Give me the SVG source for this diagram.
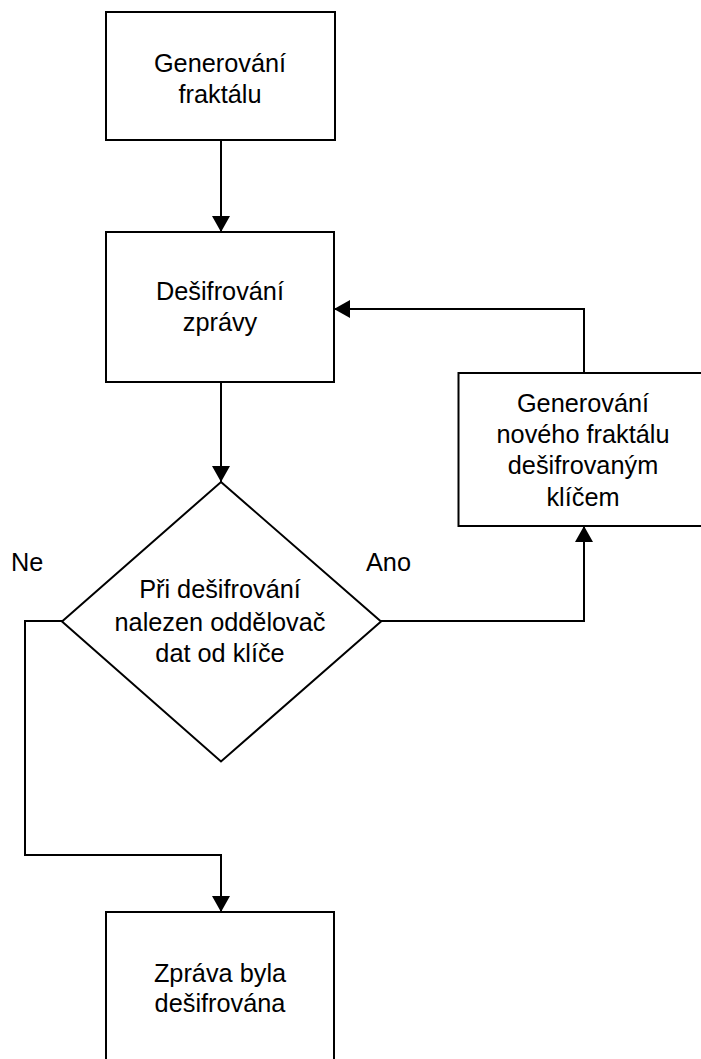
<svg xmlns="http://www.w3.org/2000/svg" width="701" height="1059" viewBox="0 0 701 1059">
<style>
.box{fill:#fff;stroke:#000;stroke-width:2}
.t{font-family:"Liberation Sans",Arial,sans-serif;font-size:25.3px;fill:#000;text-anchor:middle}
.l{font-family:"Liberation Sans",Arial,sans-serif;font-size:25.3px;fill:#000}
.c{fill:none;stroke:#000;stroke-width:2}
</style>
<defs>
<marker id="arr" markerUnits="userSpaceOnUse" markerWidth="18" markerHeight="18" viewBox="0 0 16 18" refX="16" refY="9" orient="auto">
<path d="M0,0 L16,9 L0,18 Z" fill="#000"/>
</marker>
</defs>
<rect width="701" height="1059" fill="#fff"/>
<g id="connectors">
<path class="c" d="M221,140 V232" marker-end="url(#arr)"/>
<path class="c" d="M221,382 V482" marker-end="url(#arr)"/>
<path class="c" d="M584,373 V309 H334" marker-end="url(#arr)"/>
<path class="c" d="M381,621 H584 V526" marker-end="url(#arr)"/>
<path class="c" d="M62,621 H25 V855 H221 V912" marker-end="url(#arr)"/>
</g>
<g id="n1">
<rect class="box" x="106" y="12" width="229" height="128"/>
<text class="t" x="220" y="72">Generování</text>
<text class="t" x="220" y="103">fraktálu</text>
</g>
<g id="n2">
<rect class="box" x="106" y="232" width="228" height="150"/>
<text class="t" x="220" y="300">Dešifrování</text>
<text class="t" x="220" y="331">zprávy</text>
</g>
<g id="n3">
<rect class="box" x="458.5" y="373" width="252" height="153"/>
<text class="t" x="583" y="412">Generování</text>
<text class="t" x="583" y="443">nového fraktálu</text>
<text class="t" x="583" y="474">dešifrovaným</text>
<text class="t" x="583" y="506">klíčem</text>
</g>
<g id="n4">
<polygon class="box" points="221,482 381,621.5 221,761.5 62,621.5"/>
<text class="t" x="220" y="598">Při dešifrování</text>
<text class="t" x="220" y="631">nalezen oddělovač</text>
<text class="t" x="220" y="662">dat od klíče</text>
</g>
<g id="n5">
<rect class="box" x="106" y="912" width="228" height="160"/>
<text class="t" x="220" y="982">Zpráva byla</text>
<text class="t" x="220" y="1012">dešifrována</text>
</g>
<g id="labels">
<text class="l" x="11" y="571">Ne</text>
<text class="l" x="366" y="571">Ano</text>
</g>
</svg>
